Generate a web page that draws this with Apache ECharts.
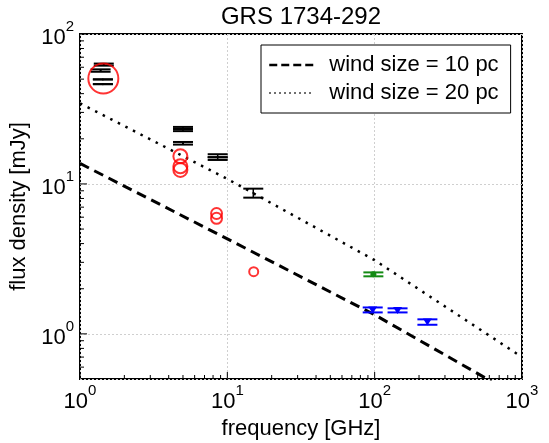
<!DOCTYPE html>
<html><head><meta charset="utf-8">
<script src="https://cdn.jsdelivr.net/npm/echarts@6/dist/echarts.min.js"></script>
<style>html,body{margin:0;padding:0;background:#fff}#c{width:549px;height:443px}</style>
</head><body><div id="c"></div>
<script>
// ---------- text ----------
const titleText = 'GRS 1734-292';
const xName = 'frequency [GHz]';
const yName = 'flux density [mJy]';
const legendNames = ['wind size = 10 pc', 'wind size = 20 pc'];

// ---------- axis ranges & ticks ----------
const xRange = [1, 1000];
const yRange = [0.5, 100];
const xMajorTicks = [1, 10, 100, 1000];
const yMajorTicks = [1, 10, 100];
const xMinorTicks = [2,3,4,5,6,7,8,9,20,30,40,50,60,70,80,90,200,300,400,500,600,700,800,900];
const yMinorTicks = [0.6,0.7,0.8,0.9,2,3,4,5,6,7,8,9,20,30,40,50,60,70,80,90];

// ---------- model curves: [freq GHz, flux mJy] ----------
const wind10 = [[1, 13.7], [10, 4.3], [100, 1.34], [620, 0.482]];
const wind20 = [[1, 34.5], [10, 10.8], [100, 3.1], [1000, 0.7]];

// ---------- red open circles ----------
const redFreq = [1.44, 4.8, 4.8, 4.8, 8.45, 8.45, 15.1];
const redFlux = [50.5, 15.3, 13.1, 12.4, 6.35, 5.9, 2.6];

// ---------- black error bars ----------
const blackFreq = [1.45, 1.38, 1.43, 1.43, 5.0, 5.0, 5.0, 8.6, 8.6, 15.0];
const blackFlux = [62.5, 57.0, 49.8, 46.3, 23.2, 23.25, 18.7, 15.1, 15.07, 8.7];
const blackLow  = [61.5, 56.0, 49.8, 46.3, 22.5, 23.25, 18.3, 14.45, 15.07, 8.1];
const blackHigh = [63.5, 58.1, 49.8, 46.3, 24.0, 23.25, 19.05, 15.78, 15.07, 9.3];

// ---------- green error bar ----------
const greenFreq = [98];
const greenFlux = [2.5];
const greenLow  = [2.42];
const greenHigh = [2.57];

// ---------- blue error bars ----------
const blueFreq = [97, 143, 228];
const blueFlux = [1.44, 1.43, 1.2];
const blueLow  = [1.39, 1.39, 1.15];
const blueHigh = [1.50, 1.48, 1.25];

// ---------- styles ----------
const redSymbolSize = [30, 14, 14, 14, 11, 11, 9];
const FONT = 'Liberation Sans, Arial, Helvetica, sans-serif';

function zip4(a, b, c, d) { return a.map((v, i) => [v, b[i], c[i], d[i]]); }

function errRender(color, marker) {
  return function (params, api) {
    const f = api.value(0), v = api.value(1), lo = api.value(2), hi = api.value(3);
    const pv = api.coord([f, v]), pl = api.coord([f, lo]), ph = api.coord([f, hi]);
    const x = pv[0], cap = 10;
    const ch = [
      {type: 'line', shape: {x1: x, y1: pl[1], x2: x, y2: ph[1]}, style: {stroke: color, lineWidth: 1.5}},
      {type: 'line', shape: {x1: x - cap, y1: pl[1], x2: x + cap, y2: pl[1]}, style: {stroke: color, lineWidth: 2}},
      {type: 'line', shape: {x1: x - cap, y1: ph[1], x2: x + cap, y2: ph[1]}, style: {stroke: color, lineWidth: 2}}
    ];
    if (marker === 'tri') {
      ch.push({type: 'polygon', shape: {points: [[x - 4.5, pv[1] - 3.5], [x + 4.5, pv[1] - 3.5], [x, pv[1] + 3.5]]}, style: {fill: color}});
    } else if (marker === 'dot') {
      ch.push({type: 'circle', shape: {cx: x, cy: pv[1], r: 3}, style: {fill: color}});
    } else {
      ch.push({type: 'circle', shape: {cx: x, cy: pv[1], r: 1}, style: {fill: color}});
    }
    return {type: 'group', children: ch};
  };
}

function tickRender(axis, len) {
  return function (params, api) {
    const val = api.value(axis === 'x' ? 0 : 1);
    let p, ln;
    if (axis === 'x') {
      p = api.coord([val, yRange[0]]);
      ln = {x1: p[0], y1: p[1], x2: p[0], y2: p[1] - len};
    } else {
      p = api.coord([xRange[0], val]);
      ln = {x1: p[0], y1: p[1], x2: p[0] + len, y2: p[1]};
    }
    return {type: 'line', shape: ln, style: {stroke: '#000', lineWidth: 1}};
  };
}

function powLabel(v) {
  const e = Math.log10(v);
  const r = Math.round(e);
  if (Math.abs(e - r) > 1e-6) return '';
  return '{b|10}{s|' + r + '}';
}
const labelRich = {
  b: {fontSize: 22, fontFamily: FONT, color: '#000', lineHeight: 30, verticalAlign: 'bottom'},
  s: {fontSize: 15, fontFamily: FONT, color: '#000', verticalAlign: 'top'}
};
const noMark = {color: 'rgba(0,0,0,0)', borderWidth: 0, opacity: 0};

const chart = echarts.init(document.getElementById('c'), null, {renderer: 'canvas'});
chart.setOption({
  animation: false,
  backgroundColor: '#fff',
  title: {
    text: titleText, left: 301, top: 5, textAlign: 'center', padding: 0,
    textStyle: {fontSize: 24, fontWeight: 'normal', color: '#000', fontFamily: FONT}
  },
  legend: {
    orient: 'vertical', left: 261, top: 45,
    itemWidth: 45, itemHeight: 16, itemGap: 6,
    padding: [9, 12, 9, 7],
    borderColor: '#000', borderWidth: 1, backgroundColor: '#fff',
    selectedMode: false,
    textStyle: {fontSize: 22, lineHeight: 22, color: '#000', fontFamily: FONT, padding: [0, 0, 0, 10]},
    data: [
      {name: legendNames[0], itemStyle: noMark, lineStyle: {type: [8, 4], width: 2.5, color: '#000'}},
      {name: legendNames[1], itemStyle: noMark, lineStyle: {type: [1.5, 3.5], width: 1.5, color: '#000'}}
    ]
  },
  grid: {left: 80, right: 27, top: 34, bottom: 64, show: true, borderColor: '#000', borderWidth: 2, backgroundColor: 'transparent', containLabel: false, outerBoundsMode: 'none'},
  xAxis: {
    type: 'log', logBase: 10, min: xRange[0], max: xRange[1],
    axisLine: {show: false}, axisTick: {show: false},
    splitLine: {show: true, lineStyle: {color: '#cfcfcf', type: [2, 2], width: 1}},
    axisLabel: {formatter: powLabel, rich: labelRich, margin: 4, showMinLabel: true, showMaxLabel: true, hideOverlap: false},
    name: xName, nameLocation: 'middle', nameGap: 38,
    nameTextStyle: {fontSize: 22, color: '#000', fontFamily: FONT}
  },
  yAxis: {
    type: 'log', logBase: 10, min: yRange[0], max: yRange[1],
    axisLine: {show: false}, axisTick: {show: false},
    splitLine: {show: true, lineStyle: {color: '#cfcfcf', type: [2, 2], width: 1}},
    axisLabel: {formatter: powLabel, rich: labelRich, margin: 6, showMinLabel: true, showMaxLabel: true, hideOverlap: false},
    name: yName, nameLocation: 'middle', nameGap: 43,
    nameTextStyle: {fontSize: 22, color: '#000', fontFamily: FONT}
  },
  series: [
    {
      name: legendNames[0], type: 'line', data: wind10, showSymbol: false, symbol: 'none',
      lineStyle: {color: '#000', width: 3, type: [10, 6]}, itemStyle: {color: '#000'}, z: 3, silent: true
    },
    {
      name: legendNames[1], type: 'line', data: wind20, showSymbol: false, symbol: 'none',
      lineStyle: {color: '#000', width: 2.5, type: [2.5, 6]}, itemStyle: {color: '#000'}, z: 3, silent: true
    },
    {
      name: 'radio', type: 'scatter', data: redFreq.map((f, i) => [f, redFlux[i]]),
      symbol: 'circle', symbolSize: (v, p) => redSymbolSize[p.dataIndex],
      itemStyle: {color: 'rgba(0,0,0,0)', borderColor: '#ff0000', borderWidth: 2}, z: 4, silent: true
    },
    {
      name: 'black', type: 'custom', data: zip4(blackFreq, blackFlux, blackLow, blackHigh),
      encode: {x: 0, y: 1}, renderItem: errRender('#000', 'small'), z: 4, silent: true
    },
    {
      name: 'green', type: 'custom', data: zip4(greenFreq, greenFlux, greenLow, greenHigh),
      encode: {x: 0, y: 1}, renderItem: errRender('#138a13', 'dot'), z: 4, silent: true
    },
    {
      name: 'blue', type: 'custom', data: zip4(blueFreq, blueFlux, blueLow, blueHigh),
      encode: {x: 0, y: 1}, renderItem: errRender('#0000ff', 'tri'), z: 4, silent: true
    },
    {
      name: 'xMinor', type: 'custom', data: xMinorTicks.map(v => [v, yRange[0]]), encode: {x: 0, y: 1},
      renderItem: tickRender('x', 4), clip: false, silent: true, z: 5
    },
    {
      name: 'xMajor', type: 'custom', data: xMajorTicks.map(v => [v, yRange[0]]), encode: {x: 0, y: 1},
      renderItem: tickRender('x', 7), clip: false, silent: true, z: 5
    },
    {
      name: 'yMinor', type: 'custom', data: yMinorTicks.map(v => [xRange[0], v]), encode: {x: 0, y: 1},
      renderItem: tickRender('y', 4), clip: false, silent: true, z: 5
    },
    {
      name: 'yMajor', type: 'custom', data: yMajorTicks.map(v => [xRange[0], v]), encode: {x: 0, y: 1},
      renderItem: tickRender('y', 7), clip: false, silent: true, z: 5
    }
  ]
});
</script>
</body></html>
